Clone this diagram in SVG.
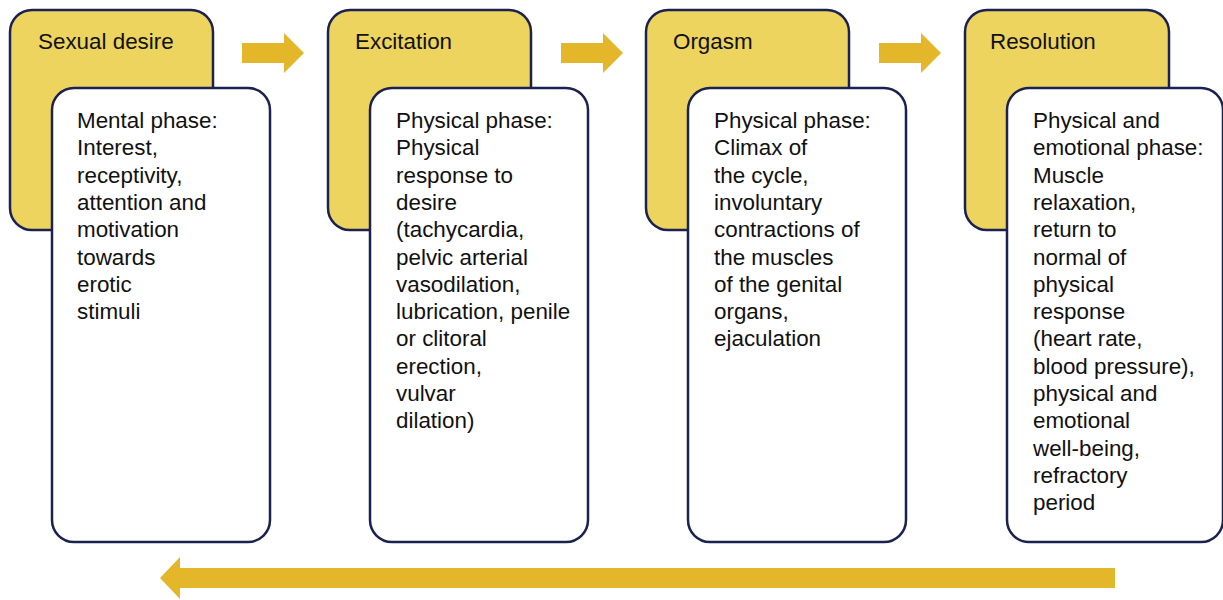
<svg xmlns="http://www.w3.org/2000/svg" width="1223" height="600" viewBox="0 0 1223 600">
<style>
.y{fill:#ECD45E;stroke:#1B2150;stroke-width:2.5}
.w{fill:#FFFFFF;stroke:#1B2150;stroke-width:2.5}
text{font-family:"Liberation Sans",Arial,sans-serif;font-size:22.4px;fill:#111111}
.arr{fill:#E4B62A}
</style>
<rect width="1223" height="600" fill="#FFFFFF"/>
<g id="connectors">
<polygon class="arr" points="242,43 284,43 284,33 304,53 284,73 284,63 242,63"/>
<polygon class="arr" points="561,43 603,43 603,33 623,53 603,73 603,63 561,63"/>
<polygon class="arr" points="879,43 921,43 921,33 941,53 921,73 921,63 879,63"/>
<polygon class="arr" points="1115,568 180,568 180,557 160,578 180,599 180,588 1115,588"/>
</g>
<g id="node-desire">
<rect class="y" x="10" y="10" width="203" height="220" rx="22"/>
<text x="38" y="49">Sexual desire</text>
<rect class="w" x="52" y="88" width="218" height="454" rx="22"/>
<text x="77" y="128">Mental phase:</text>
<text x="77" y="155.3">Interest,</text>
<text x="77" y="182.6">receptivity,</text>
<text x="77" y="209.9">attention and</text>
<text x="77" y="237.2">motivation</text>
<text x="77" y="264.5">towards</text>
<text x="77" y="291.8">erotic</text>
<text x="77" y="319.1">stimuli</text>
</g>
<g id="node-excitation">
<rect class="y" x="328" y="10" width="203" height="220" rx="22"/>
<text x="355" y="49">Excitation</text>
<rect class="w" x="370" y="88" width="218" height="454" rx="22"/>
<text x="396" y="128">Physical phase:</text>
<text x="396" y="155.3">Physical</text>
<text x="396" y="182.6">response to</text>
<text x="396" y="209.9">desire</text>
<text x="396" y="237.2">(tachycardia,</text>
<text x="396" y="264.5">pelvic arterial</text>
<text x="396" y="291.8">vasodilation,</text>
<text x="396" y="319.1">lubrication, penile</text>
<text x="396" y="346.4">or clitoral</text>
<text x="396" y="373.7">erection,</text>
<text x="396" y="401">vulvar</text>
<text x="396" y="428.3">dilation)</text>
</g>
<g id="node-orgasm">
<rect class="y" x="646" y="10" width="203" height="220" rx="22"/>
<text x="673" y="49">Orgasm</text>
<rect class="w" x="688" y="88" width="218" height="454" rx="22"/>
<text x="714" y="128">Physical phase:</text>
<text x="714" y="155.3">Climax of</text>
<text x="714" y="182.6">the cycle,</text>
<text x="714" y="209.9">involuntary</text>
<text x="714" y="237.2">contractions of</text>
<text x="714" y="264.5">the muscles</text>
<text x="714" y="291.8">of the genital</text>
<text x="714" y="319.1">organs,</text>
<text x="714" y="346.4">ejaculation</text>
</g>
<g id="node-resolution">
<rect class="y" x="965" y="10" width="204" height="220" rx="22"/>
<text x="990" y="49">Resolution</text>
<rect class="w" x="1007" y="88" width="216" height="454" rx="22"/>
<text x="1033" y="128">Physical and</text>
<text x="1033" y="155.3">emotional phase:</text>
<text x="1033" y="182.6">Muscle</text>
<text x="1033" y="209.9">relaxation,</text>
<text x="1033" y="237.2">return to</text>
<text x="1033" y="264.5">normal of</text>
<text x="1033" y="291.8">physical</text>
<text x="1033" y="319.1">response</text>
<text x="1033" y="346.4">(heart rate,</text>
<text x="1033" y="373.7">blood pressure),</text>
<text x="1033" y="401">physical and</text>
<text x="1033" y="428.3">emotional</text>
<text x="1033" y="455.6">well-being,</text>
<text x="1033" y="482.9">refractory</text>
<text x="1033" y="510.2">period</text>
</g>
</svg>
